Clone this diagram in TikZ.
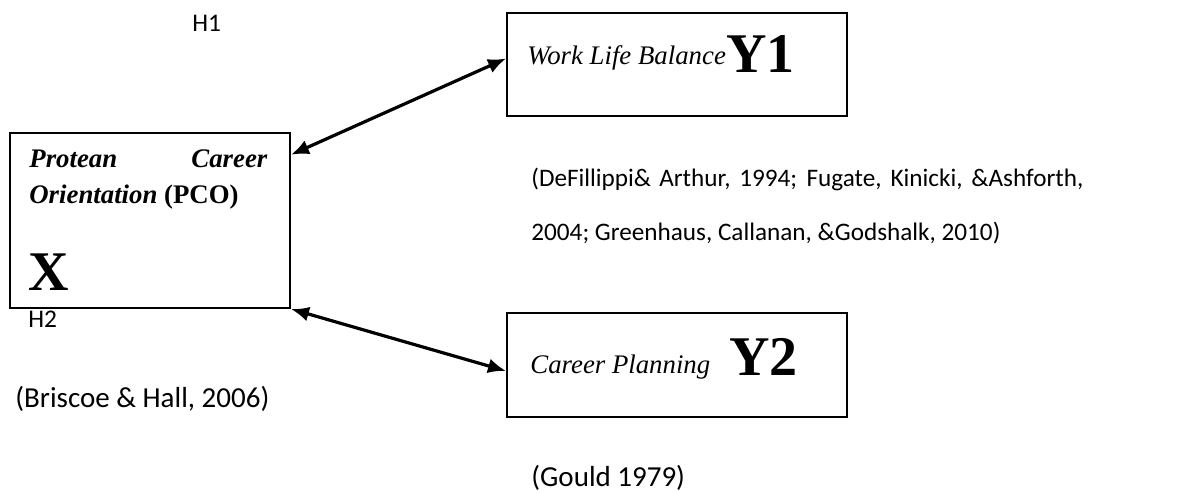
\documentclass[tikz,border=0pt]{standalone}
\usepackage{fontspec}
\setmainfont{Liberation Serif}
\newfontfamily\calibri{Carlito}
\usetikzlibrary{arrows.meta}
\tikzstyle{block}=[draw, line width=1pt, inner sep=0pt]
\tikzstyle{txt}=[inner sep=0pt, anchor=base west, font=\fontsize{13.4}{17.5}\selectfont\itshape]
\tikzstyle{big}=[inner sep=0pt, anchor=base west, font=\fontsize{28}{32}\selectfont\bfseries]
\tikzstyle{hyp}=[inner sep=0pt, anchor=base west, font=\calibri\fontsize{12.7}{15}\selectfont]
\tikzstyle{cite}=[inner sep=0pt, anchor=base west, font=\calibri\fontsize{14.5}{17}\selectfont]
\newcommand{\block}{\node[block]}

\begin{document}
\begin{tikzpicture}[x=0.5pt, y=-0.5pt
    ,link/.style={line width=1.6pt,
        {Latex[length=9pt,width=7.5pt]}-{Latex[length=9pt,width=7.5pt]}}
]
\useasboundingbox (0,0) rectangle (1189,492);
% boxes
\block[minimum width=140pt, minimum height=87.5pt] (X) at (150,220.5) {};
\block[minimum width=170pt, minimum height=51.5pt] (Y1) at (677,64.5) {};
\block[minimum width=170pt, minimum height=52pt] (Y2) at (677,365) {};
% box texts (base is the last line)
\node[txt, font=\fontsize{13.4}{17.5}\selectfont\bfseries\itshape, align=left] (pco) at (29,203)
    {\makebox[119pt]{Protean\hfill Career}\\Orientation \textup{(PCO)}};
\node[big] (xl) at (28,290) {X};
\node[txt] (wlb) at (527,65) {Work Life Balance};
\node[big] (y1l) at (726,73) {Y1};
\node[txt] (cp) at (530,373) {Career Planning};
\node[big] (y2l) at (729,375) {Y2};
% hypotheses and sources
\node[hyp] (h1) at (192,32) {H1};
\node[hyp] (h2) at (28,327) {H2};
\node[cite] (src1) at (15,407) {(Briscoe \& Hall, 2006)};
\node[cite, font=\calibri\fontsize{12.6}{27}\selectfont, align=left] (src2) at (531,240)
    {\makebox[276pt][s]{(DeFillippi\& Arthur, 1994; Fugate, Kinicki, \&Ashforth,}\\2004; Greenhaus, Callanan, \&Godshalk, 2010)};
\node[cite] (src3) at (531,486) {(Gould 1979)};
% links
\draw[link] (X.25) -- (Y1.178);
\draw[link] (X.south east) -- (Y2.182);
\end{tikzpicture}
\end{document}
